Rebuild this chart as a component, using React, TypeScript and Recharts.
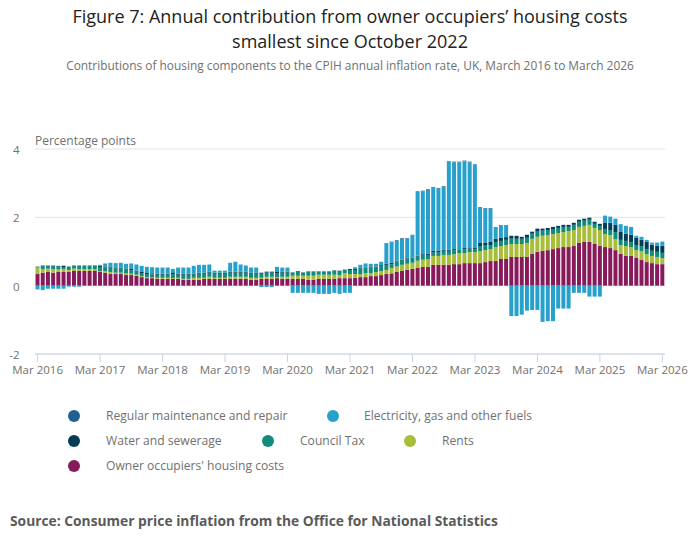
import React from 'react'
import { BarChart, Bar, XAxis, YAxis, CartesianGrid } from 'recharts'

const MONTHS = ['Jan', 'Feb', 'Mar', 'Apr', 'May', 'Jun', 'Jul', 'Aug', 'Sep', 'Oct', 'Nov', 'Dec']
const START_YEAR = 2016
const START_MONTH = 2 // March
const MONTH_COUNT = 121

const Y_TICKS = [-2, 0, 2, 4]

// one row per year, Mar..Feb
const OOH = [
  0.34, 0.38, 0.40, 0.38, 0.40, 0.40, 0.40, 0.43, 0.43, 0.43, 0.43, 0.43,
  0.40, 0.38, 0.34, 0.34, 0.34, 0.31, 0.31, 0.29, 0.25, 0.22, 0.22, 0.20,
  0.20, 0.20, 0.20, 0.20, 0.17, 0.17, 0.17, 0.17, 0.20, 0.20, 0.20, 0.20,
  0.20, 0.20, 0.20, 0.20, 0.20, 0.17, 0.17, 0.20, 0.20, 0.20, 0.22, 0.20,
  0.20, 0.20, 0.20, 0.20, 0.17, 0.17, 0.20, 0.20, 0.20, 0.20, 0.22, 0.22,
  0.22, 0.23, 0.25, 0.25, 0.28, 0.28, 0.31, 0.34, 0.36, 0.40, 0.43, 0.46,
  0.49, 0.53, 0.55, 0.55, 0.61, 0.61, 0.61, 0.61, 0.63, 0.63, 0.66, 0.66,
  0.66, 0.66, 0.69, 0.72, 0.72, 0.78, 0.78, 0.84, 0.84, 0.84, 0.84, 0.93,
  0.99, 1.02, 1.04, 1.07, 1.10, 1.13, 1.13, 1.16, 1.25, 1.28, 1.28, 1.22,
  1.16, 1.13, 1.10, 1.04, 0.93, 0.87, 0.87, 0.81, 0.75, 0.69, 0.66, 0.63,
  0.63,
]

const RENTS = [
  0.19, 0.10, 0.10, 0.10, 0.08, 0.08, 0.06, 0.07, 0.05, 0.05, 0.05, 0.05,
  0.03, 0.04, 0.06, 0.04, 0.04, 0.05, 0.04, 0.03, 0.03, 0.03, 0.02, 0.03,
  0.03, 0.03, 0.02, 0.03, 0.03, 0.03, 0.06, 0.06, 0.03, 0.06, 0.03, 0.03,
  0.03, 0.06, 0.06, 0.06, 0.06, 0.06, 0.06, 0.03, 0.06, 0.06, 0.03, 0.06,
  0.06, 0.09, 0.09, 0.09, 0.12, 0.12, 0.12, 0.12, 0.12, 0.12, 0.09, 0.15,
  0.12, 0.11, 0.08, 0.12, 0.09, 0.12, 0.12, 0.12, 0.16, 0.16, 0.18, 0.18,
  0.18, 0.20, 0.21, 0.23, 0.26, 0.26, 0.29, 0.29, 0.29, 0.32, 0.29, 0.32,
  0.32, 0.35, 0.35, 0.35, 0.41, 0.38, 0.41, 0.38, 0.38, 0.38, 0.41, 0.44,
  0.44, 0.44, 0.44, 0.44, 0.44, 0.44, 0.47, 0.47, 0.47, 0.47, 0.50, 0.47,
  0.47, 0.38, 0.38, 0.32, 0.26, 0.29, 0.26, 0.23, 0.26, 0.23, 0.21, 0.21,
  0.18,
]

const COUNCIL_TAX = [
  0.03, 0.08, 0.08, 0.10, 0.08, 0.07, 0.09, 0.08, 0.10, 0.10, 0.10, 0.10,
  0.12, 0.11, 0.13, 0.12, 0.12, 0.11, 0.10, 0.09, 0.09, 0.09, 0.09, 0.09,
  0.09, 0.09, 0.12, 0.09, 0.12, 0.12, 0.09, 0.12, 0.12, 0.12, 0.12, 0.12,
  0.12, 0.12, 0.12, 0.12, 0.12, 0.12, 0.12, 0.12, 0.12, 0.12, 0.12, 0.12,
  0.12, 0.09, 0.12, 0.09, 0.12, 0.12, 0.09, 0.09, 0.09, 0.12, 0.12, 0.09,
  0.12, 0.12, 0.17, 0.16, 0.16, 0.13, 0.13, 0.15, 0.11, 0.15, 0.15, 0.14,
  0.14, 0.12, 0.12, 0.12, 0.10, 0.10, 0.12, 0.12, 0.12, 0.11, 0.12, 0.10,
  0.09, 0.15, 0.15, 0.12, 0.15, 0.15, 0.15, 0.15, 0.15, 0.15, 0.15, 0.15,
  0.15, 0.15, 0.15, 0.15, 0.15, 0.15, 0.12, 0.15, 0.15, 0.15, 0.15, 0.12,
  0.12, 0.15, 0.15, 0.21, 0.15, 0.15, 0.15, 0.15, 0.15, 0.15, 0.15, 0.15,
  0.15,
]

const WATER = [
  0.00, 0.03, 0.01, 0.01, 0.02, 0.03, 0.01, 0.01, 0.01, 0.01, 0.01, 0.01,
  0.03, 0.03, 0.03, 0.03, 0.03, 0.03, 0.04, 0.03, 0.03, 0.03, 0.03, 0.03,
  0.03, 0.03, 0.03, 0.03, 0.03, 0.03, 0.03, 0.03, 0.03, 0.03, 0.03, 0.03,
  0.03, 0.03, 0.03, 0.03, 0.03, 0.03, 0.03, 0.03, 0.03, 0.03, 0.03, 0.03,
  0.03, 0.01, 0.02, 0.01, 0.01, 0.01, 0.01, 0.01, 0.01, 0.01, 0.01, 0.01,
  0.03, 0.03, 0.02, 0.01, 0.03, 0.03, 0.04, 0.03, 0.04, 0.02, 0.01, 0.02,
  0.01, 0.03, 0.04, 0.03, 0.05, 0.05, 0.03, 0.03, 0.03, 0.01, 0.03, 0.02,
  0.03, 0.09, 0.06, 0.09, 0.09, 0.09, 0.08, 0.09, 0.09, 0.06, 0.09, 0.06,
  0.09, 0.06, 0.06, 0.06, 0.06, 0.06, 0.06, 0.06, 0.06, 0.06, 0.06, 0.06,
  0.06, 0.18, 0.21, 0.21, 0.23, 0.21, 0.21, 0.21, 0.18, 0.21, 0.18, 0.18,
  0.21,
]

const ELECTRICITY = [
  -0.11, -0.13, -0.09, -0.09, -0.09, -0.09, -0.03, -0.03, -0.03, 0.00, 0.00, 0.01,
  0.03, 0.09, 0.11, 0.13, 0.14, 0.14, 0.16, 0.18, 0.18, 0.18, 0.18, 0.18,
  0.18, 0.18, 0.12, 0.18, 0.18, 0.18, 0.23, 0.23, 0.23, 0.21, 0.06, 0.06,
  0.06, 0.26, 0.29, 0.21, 0.18, 0.15, 0.15, -0.04, -0.04, -0.04, 0.15, 0.12,
  0.12, -0.21, -0.21, -0.21, -0.21, -0.21, -0.24, -0.24, -0.24, -0.21, -0.24, -0.21,
  -0.21, 0.05, 0.09, 0.11, 0.08, 0.08, 0.10, 0.58, 0.60, 0.58, 0.60, 0.57,
  0.65, 1.86, 1.84, 1.87, 1.85, 1.82, 1.84, 2.57, 2.54, 2.54, 2.54, 2.51,
  2.43, 1.03, 1.00, 0.97, 0.32, 0.35, 0.33, -0.89, -0.89, -0.85, -0.73, -0.71,
  -0.71, -1.06, -1.04, -1.04, -0.67, -0.67, -0.67, -0.21, -0.21, -0.21, -0.32, -0.32,
  -0.32, 0.21, 0.18, 0.18, 0.23, 0.23, 0.23, 0.06, 0.09, 0.06, 0.06, 0.09,
  0.12,
]

const MAINTENANCE = [
  0, 0, 0, 0, 0, 0, 0, 0, 0, 0, 0, 0,
  0, 0, 0, 0, 0, 0, 0, 0, 0, 0, 0, 0,
  0, 0, 0, 0, 0, 0, 0, 0, 0, 0, 0, 0,
  0, 0, 0, 0, 0, 0, 0, 0, 0, 0, 0, 0,
  0, 0, 0, 0, 0, 0, 0, 0, 0, 0, 0, 0,
  0, 0, 0, 0, 0, 0, 0, 0.02, 0.02, 0.02, 0.02, 0.02,
  0.02, 0.02, 0.02, 0.02, 0.02, 0.02, 0.02, 0.02, 0.02, 0.02, 0.02, 0.02,
  0.02, 0.02, 0.02, 0.02, 0.02, 0.02, 0.02, 0, 0, 0, 0, 0,
  0, 0, 0, 0, 0, 0, 0, 0, 0, 0, 0, 0,
  0, 0, 0, 0, 0, 0, 0, 0, 0, 0, 0, 0,
  0,
]

const SERIES = [
  { key: 'ooh', name: "Owner occupiers' housing costs", color: '#871a5b', values: OOH },
  { key: 'rents', name: 'Rents', color: '#a8bd3a', values: RENTS },
  { key: 'council', name: 'Council Tax', color: '#118c7b', values: COUNCIL_TAX },
  { key: 'water', name: 'Water and sewerage', color: '#003c57', values: WATER },
  { key: 'elec', name: 'Electricity, gas and other fuels', color: '#27a0cc', values: ELECTRICITY },
  { key: 'maint', name: 'Regular maintenance and repair', color: '#206095', values: MAINTENANCE },
]

const CATEGORIES = Array.from({ length: MONTH_COUNT }, (_, i) => {
  const m = START_MONTH + i
  return `${MONTHS[m % 12]} ${START_YEAR + Math.floor(m / 12)}`
})

const data = CATEGORIES.map((month, i) => {
  const row: Record<string, string | number> = { month }
  SERIES.forEach((s) => { row[s.key] = s.values[i] })
  return row
})

// legend placement (circle centre x, row y, text x)
const LEGEND = [
  { key: 'maint', cx: 74, cy: 416, tx: 106 },
  { key: 'elec', cx: 333, cy: 416, tx: 364 },
  { key: 'water', cx: 74, cy: 441, tx: 106 },
  { key: 'council', cx: 268, cy: 441, tx: 300 },
  { key: 'rents', cx: 410, cy: 441, tx: 442 },
  { key: 'ooh', cx: 74, cy: 466, tx: 106 },
]

const GREY = '#707070'
const FONT = '"Open Sans", sans-serif'

function YTick({ y, payload }: any) {
  return (
    <text x={19.5} y={y} dy={5} textAnchor="end" fill={GREY} fontSize={11.5} fontFamily={FONT}>
      {payload.value}
    </text>
  )
}

export default function App() {
  return (
    <div style={{ position: 'absolute', left: 0, top: 0, width: 700, height: 549, background: '#fff', fontFamily: FONT, overflow: 'hidden' }}>
      <svg width={700} height={56} style={{ position: 'absolute', left: 0, top: 0 }}>
        <text x={350} y={23} textAnchor="middle" fontSize={18} fill="#222" fontFamily={FONT}>
          Figure 7: Annual contribution from owner occupiers’ housing costs
        </text>
        <text x={350} y={47.6} textAnchor="middle" fontSize={18} fill="#222" fontFamily={FONT}>
          smallest since October 2022
        </text>
      </svg>
      <div style={{ position: 'absolute', left: 0, top: 57, width: 700, textAlign: 'center', fontSize: 11.9, lineHeight: '16px', color: GREY, whiteSpace: 'nowrap' }}>
        Contributions of housing components to the CPIH annual inflation rate, UK, March 2016 to March 2026
      </div>
      <div style={{ position: 'absolute', left: 35, top: 135, fontSize: 12, lineHeight: '12px', color: GREY }}>
        Percentage points
      </div>

      <div style={{ position: 'absolute', left: 0, top: 0 }}>
        <BarChart
          width={700}
          height={384}
          data={data}
          stackOffset="sign"
          barCategoryGap="10%"
          margin={{ top: 149, right: 35, bottom: 0, left: 0 }}
        >
          <CartesianGrid vertical={false} stroke="#e2e2e2" />
          <XAxis
            dataKey="month"
            interval={11}
            height={30}
            tickSize={8}
            tickMargin={4}
            axisLine={{ stroke: '#c6d3e8' }}
            tickLine={{ stroke: '#c6d3e8' }}
            tick={{ fill: GREY, fontSize: 11.5, fontFamily: FONT }}
          />
          <YAxis
            width={35}
            domain={[-2, 4]}
            ticks={Y_TICKS}
            axisLine={false}
            tickLine={false}
            tick={<YTick />}
          />
          {SERIES.map((s) => (
            <Bar key={s.key} dataKey={s.key} name={s.name} stackId="a" fill={s.color} isAnimationActive={false} />
          ))}
        </BarChart>
      </div>

      {LEGEND.map((l) => {
        const s = SERIES.find((x) => x.key === l.key)!
        return (
          <React.Fragment key={l.key}>
            <div style={{ position: 'absolute', left: l.cx - 6, top: l.cy - 6, width: 12, height: 12, borderRadius: 6, background: s.color }} />
            <div style={{ position: 'absolute', left: l.tx, top: l.cy - 9, fontSize: 12.1, lineHeight: '18px', color: GREY, whiteSpace: 'nowrap' }}>
              {s.name}
            </div>
          </React.Fragment>
        )
      })}

      <div style={{ position: 'absolute', left: 10, top: 512, fontSize: 13.8, lineHeight: '18px', fontWeight: 700, color: '#5a5a5a', whiteSpace: 'nowrap' }}>
        Source: Consumer price inflation from the Office for National Statistics
      </div>
    </div>
  )
}
